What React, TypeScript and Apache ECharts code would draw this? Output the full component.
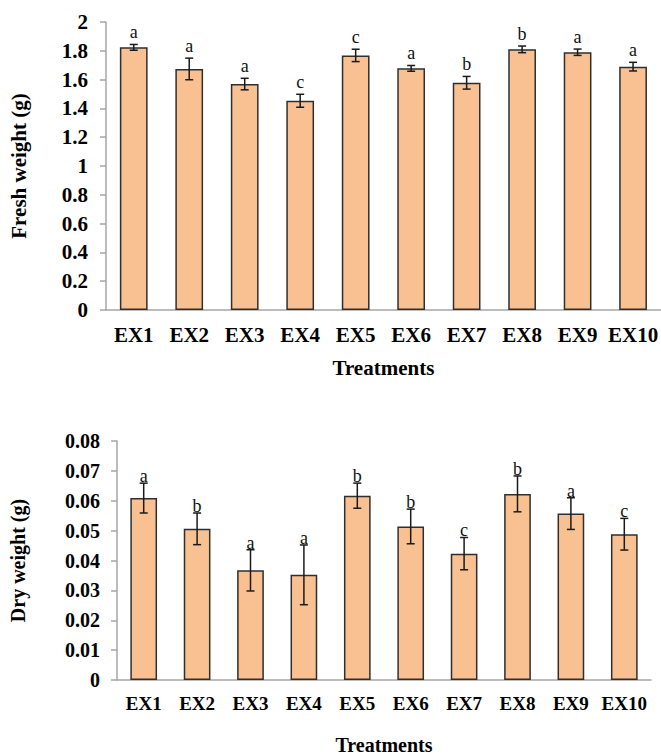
import React, { useEffect, useRef } from "react";
import * as echarts from "echarts";

const categories = ["EX1", "EX2", "EX3", "EX4", "EX5", "EX6", "EX7", "EX8", "EX9", "EX10"];
const freshMean = [1.824, 1.674, 1.569, 1.453, 1.768, 1.678, 1.578, 1.81, 1.79, 1.69];
const freshErr = [0.02, 0.075, 0.04, 0.045, 0.043, 0.02, 0.044, 0.023, 0.022, 0.03];
const freshLetters = ["a", "a", "a", "c", "c", "a", "b", "b", "a", "a"];
const dryMean = [0.0609, 0.0506, 0.0367, 0.0352, 0.0617, 0.0514, 0.0423, 0.0623, 0.0557, 0.0488];
const dryErr = [0.005, 0.0053, 0.0069, 0.01, 0.0042, 0.0058, 0.0054, 0.006, 0.0053, 0.0053];
const dryLetters = ["a", "b", "a", "a", "b", "b", "c", "b", "a", "c"];

const SERIF = '"Liberation Serif", "Times New Roman", serif';
const AXIS_GRAY = "#a6a6a6";
const BAR_FILL = "#F9C091";
const BAR_EDGE = "#2f2f2f";

function errorSeries(means: number[], errs: number[], letters: string[], axisIdx: number, letterGap: number) {
  return {
    type: "custom",
    xAxisIndex: axisIdx,
    yAxisIndex: axisIdx,
    z: 10,
    data: means.map((m, i) => [i, m, errs[i]]),
    renderItem: (params: any, api: any) => {
      const idx = api.value(0);
      const m = api.value(1);
      const e = api.value(2);
      const hi = api.coord([idx, m + e]);
      const lo = api.coord([idx, m - e]);
      const cap = 4;
      const lineStyle = { stroke: "#1a1a1a", lineWidth: 1.5 };
      return {
        type: "group",
        children: [
          { type: "line", shape: { x1: hi[0], y1: hi[1], x2: lo[0], y2: lo[1] }, style: lineStyle },
          { type: "line", shape: { x1: hi[0] - cap, y1: hi[1], x2: hi[0] + cap, y2: hi[1] }, style: lineStyle },
          { type: "line", shape: { x1: lo[0] - cap, y1: lo[1], x2: lo[0] + cap, y2: lo[1] }, style: lineStyle },
          {
            type: "text",
            x: hi[0],
            y: hi[1] - letterGap,
            style: {
              text: letters[params.dataIndex],
              fill: "#111",
              font: `18px ${SERIF}`,
              textAlign: "center",
              textVerticalAlign: "bottom",
              align: "center",
              verticalAlign: "bottom",
            },
          },
        ],
      };
    },
  };
}

export default function App() {
  const ref = useRef<HTMLDivElement>(null);
  useEffect(() => {
    if (!ref.current) return;
    const chart = echarts.init(ref.current, undefined, { renderer: "svg" });
    const xAxisCommon = (idx: number, labelSize: number, nameGap: number, nameSize: number) => ({
      type: "category",
      gridIndex: idx,
      data: categories,
      axisLine: { lineStyle: { color: AXIS_GRAY, width: 1.5 } },
      axisTick: { show: false },
      axisLabel: { interval: 0, color: "#000", fontWeight: "bold", fontSize: labelSize, fontFamily: SERIF, margin: 14 },
      name: "Treatments",
      nameLocation: "middle",
      nameGap,
      nameTextStyle: { color: "#000", fontWeight: "bold", fontSize: nameSize, fontFamily: SERIF },
    });
    const yAxisCommon = (
      idx: number,
      max: number,
      interval: number,
      name: string,
      nameGap: number,
      margin: number,
      labelSize: number,
      nameSize: number
    ) => ({
      type: "value",
      gridIndex: idx,
      min: 0,
      max,
      interval,
      splitLine: { show: false },
      axisLine: { show: true, lineStyle: { color: AXIS_GRAY, width: 1.5 } },
      axisTick: { show: true, length: 6, lineStyle: { color: AXIS_GRAY, width: 1.5 } },
      axisLabel: { color: "#000", fontWeight: "bold", fontSize: labelSize, fontFamily: SERIF, margin },
      name,
      nameLocation: "middle",
      nameGap,
      nameTextStyle: { color: "#000", fontWeight: "bold", fontSize: nameSize, fontFamily: SERIF },
    });
    chart.setOption({
      animation: false,
      backgroundColor: "#fff",
      grid: [
        { left: 103, top: 22, width: 558, height: 288 },
        { left: 106, top: 441, width: 545, height: 254 },
      ],
      xAxis: [xAxisCommon(0, 21, 47, 21), xAxisCommon(1, 19, 55, 20)],
      yAxis: [
        yAxisCommon(0, 2, 0.2, "Fresh weight (g)", 77, 18, 21, 21),
        yAxisCommon(1, 0.08, 0.01, "Dry weight (g)", 89, 17, 20, 20),
      ],
      series: [
        {
          type: "bar",
          xAxisIndex: 0,
          yAxisIndex: 0,
          data: freshMean,
          barWidth: "50%",
          itemStyle: { color: BAR_FILL, borderColor: BAR_EDGE, borderWidth: 1.5 },
        },
        errorSeries(freshMean, freshErr, freshLetters, 0, 3),
        {
          type: "bar",
          xAxisIndex: 1,
          yAxisIndex: 1,
          data: dryMean,
          barWidth: "50%",
          itemStyle: { color: BAR_FILL, borderColor: BAR_EDGE, borderWidth: 1.5 },
        },
        errorSeries(dryMean, dryErr, dryLetters, 1, -2),
      ],
    });
    return () => chart.dispose();
  }, []);
  return <div ref={ref} style={{ position: "fixed", left: 0, top: 0, width: 661, height: 756, background: "#fff" }} />;
}
